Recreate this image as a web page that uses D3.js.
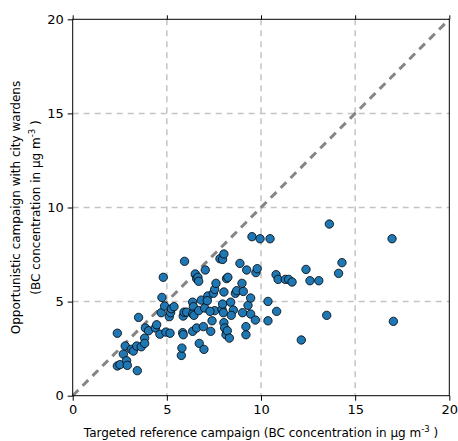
<!DOCTYPE html>
<html><head><meta charset="utf-8">
<script src="https://cdn.jsdelivr.net/npm/d3@7"></script>
<style>body{margin:0;background:#fff}svg{display:block}text{font-family:"DejaVu Sans",sans-serif}</style>
</head><body><svg id="c" width="458" height="441"></svg>
<script>
const tickValues = [0, 5, 10, 15, 20];
const tickLabels = ["0", "5", "10", "15", "20"];
const refX = [2.37,2.37,2.51,2.69,2.79,2.86,2.90,3.11,3.22,3.40,3.43,3.50,3.64,3.82,3.82,3.86,4.03,4.39,4.46,4.63,4.70,4.74,4.81,4.88,4.95,5.13,5.17,5.20,5.24,5.38,5.77,5.80,5.84,5.87,5.94,5.87,5.91,6.05,6.37,6.37,6.41,6.37,6.44,6.51,6.58,6.58,6.65,6.69,6.69,6.72,6.83,6.94,6.97,7.04,7.01,7.18,7.15,7.33,7.40,7.47,7.54,7.54,7.61,7.29,7.82,7.96,8.03,7.93,8.00,7.96,8.03,8.07,8.14,8.21,8.32,8.17,8.24,8.39,8.53,8.42,8.64,8.71,8.88,8.99,9.06,9.02,9.20,9.20,9.24,9.31,9.45,9.45,9.52,9.70,9.73,9.80,9.95,8.03,10.48,13.63,16.96,14.30,14.12,12.39,12.60,13.07,10.80,10.91,11.29,11.47,11.65,10.37,10.83,10.37,13.49,17.03,12.14];
const oppY = [3.32,1.58,1.65,2.21,2.64,1.86,1.61,2.46,2.37,2.64,1.33,4.16,2.60,3.06,2.78,3.60,3.45,3.60,3.77,3.27,4.41,5.22,6.29,4.76,3.38,4.20,3.32,4.41,4.62,4.73,2.14,2.53,3.35,3.24,7.14,4.23,4.44,4.44,3.42,4.97,4.73,4.34,4.27,6.47,3.60,6.22,6.29,6.08,4.52,2.78,5.08,3.67,2.46,6.68,4.66,5.30,5.05,3.42,3.98,5.44,5.65,4.52,5.97,4.48,7.28,7.24,7.53,4.59,4.41,4.87,3.88,3.60,3.24,3.45,3.06,6.22,6.29,4.97,4.55,4.27,5.44,5.58,7.03,5.97,5.54,4.41,3.24,3.67,6.68,4.80,5.19,4.34,8.45,4.02,6.54,6.75,8.34,5.51,8.34,9.12,8.34,7.07,6.50,6.71,6.11,6.11,6.43,6.18,6.18,6.18,6.04,5.01,4.48,3.98,4.27,3.95,2.96];

const svg = d3.select("#c");
const L = 72.7, R = 449.3, T = 19.3, B = 395.7;
const x = d3.scaleLinear().domain([0, 20]).range([L, R]);
const y = d3.scaleLinear().domain([0, 20]).range([B, T]);

// grid
const g = svg.append("g");
[5, 10, 15].forEach(v => {
  g.append("line").attr("x1", x(v)).attr("x2", x(v)).attr("y1", T).attr("y2", B)
    .attr("stroke", "#c4c4c4").attr("stroke-width", 1.5).attr("stroke-dasharray", "6,5");
  g.append("line").attr("y1", y(v)).attr("y2", y(v)).attr("x1", L).attr("x2", R)
    .attr("stroke", "#c4c4c4").attr("stroke-width", 1.5).attr("stroke-dasharray", "6,5");
});

// 1:1 line
svg.append("line").attr("x1", x(0)).attr("y1", y(0)).attr("x2", x(20)).attr("y2", y(20))
  .attr("stroke", "#858585").attr("stroke-width", 3).attr("stroke-dasharray", "8,6");

// points
const pts = refX.map((d, i) => [d, oppY[i]]);
svg.append("g").selectAll("circle").data(pts).join("circle")
  .attr("cx", d => x(d[0])).attr("cy", d => y(d[1])).attr("r", 4.2)
  .attr("fill", "#1f77b4").attr("stroke", "#000").attr("stroke-width", 0.8);

// frame
svg.append("rect").attr("x", L).attr("y", T).attr("width", R - L).attr("height", B - T)
  .attr("fill", "none").attr("stroke", "#000").attr("stroke-width", 1);

// axes
const fmt = d => tickLabels[tickValues.indexOf(d)];
const xAxis = svg.append("g").attr("transform", `translate(0,${B})`)
  .call(d3.axisBottom(x).tickValues(tickValues).tickFormat(fmt).tickSize(5).tickPadding(4));
const xTop = svg.append("g").attr("transform", `translate(0,${T})`)
  .call(d3.axisTop(x).tickValues(tickValues).tickFormat("").tickSize(4));
const yAxis = svg.append("g").attr("transform", `translate(${L},0)`)
  .call(d3.axisLeft(y).tickValues(tickValues).tickFormat(fmt).tickSize(5).tickPadding(4));
[xAxis, xTop, yAxis].forEach(a => {
  a.select(".domain").remove();
  a.selectAll("line").attr("stroke", "#000");
  a.selectAll("text").attr("font-family", "DejaVu Sans").attr("font-size", 13).attr("fill", "#000");
});

// x label
const xl = svg.append("text").attr("x", (L + R) / 2).attr("y", 437).attr("text-anchor", "middle")
  .attr("font-size", 12).attr("fill", "#000");
xl.append("tspan").text("Targeted reference campaign (BC concentration in µg m");
xl.append("tspan").attr("font-size", 8.5).attr("dy", -5).text("-3");
xl.append("tspan").attr("dy", 5).text(" )");

// y label
const yl = svg.append("g").attr("transform", `translate(20,${(T + B) / 2}) rotate(-90)`);
yl.append("text").attr("text-anchor", "middle").attr("font-size", 12).attr("fill", "#000")
  .text("Opportunistic campaign with city wardens");
const yl2 = yl.append("text").attr("y", 20).attr("text-anchor", "middle").attr("font-size", 12).attr("fill", "#000");
yl2.append("tspan").text("(BC concentration in µg m");
yl2.append("tspan").attr("font-size", 8.5).attr("dy", -5).text("-3");
yl2.append("tspan").attr("dy", 5).text(" )");
</script></body></html>
